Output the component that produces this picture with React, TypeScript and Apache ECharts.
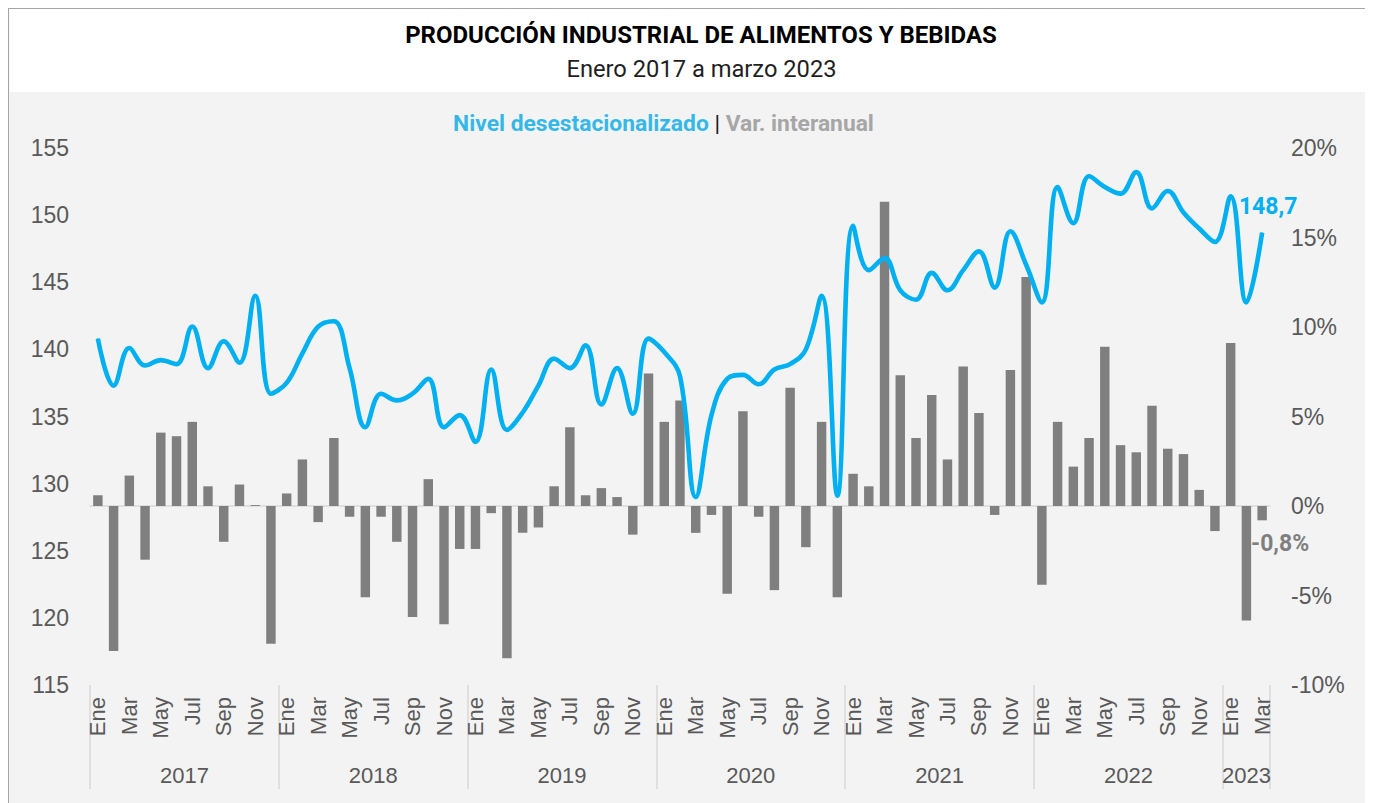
import React, { useEffect, useRef } from "react";
import * as echarts from "echarts";

const monthNames = ["Ene", "Feb", "Mar", "Abr", "May", "Jun", "Jul", "Ago", "Sep", "Oct", "Nov", "Dic"];
const years = ["2017", "2018", "2019", "2020", "2021", "2022", "2023"];
const monthsPerYear = [12, 12, 12, 12, 12, 12, 3];

// Nivel desestacionalizado (left axis)
const level = [
  140.8, 137.3, 140.1, 138.8, 139.2, 138.9, 141.7, 138.6, 140.6, 139.0, 144.0, 136.7,
  137.5, 139.7, 141.7, 142.1, 138.6, 134.2, 136.7, 136.2, 136.7, 137.8, 134.2, 135.1,
  133.1, 138.5, 134.0, 135.3, 137.3, 139.3, 138.6, 140.3, 135.9, 138.6, 135.2, 140.8,
  139.8, 138.0, 129.0, 135.1, 137.8, 138.1, 137.4, 138.5, 138.9, 140.0, 144.0, 129.1,
  149.2, 145.9, 146.8, 144.4, 143.7, 145.7, 144.4, 145.9, 147.3, 144.6, 148.8, 146.3,
  143.5, 152.1, 149.4, 152.9, 152.1, 151.6, 153.2, 150.5, 151.8, 150.2, 149.0, 148.0,
  151.4, 143.5, 148.7,
];

// Var. interanual (%) (right axis)
const yoy = [
  0.6, -8.1, 1.7, -3.0, 4.1, 3.9, 4.7, 1.1, -2.0, 1.2, 0.05, -7.7,
  0.7, 2.6, -0.9, 3.8, -0.6, -5.1, -0.6, -2.0, -6.2, 1.5, -6.6, -2.4,
  -2.4, -0.4, -8.5, -1.5, -1.2, 1.1, 4.4, 0.6, 1.0, 0.5, -1.6, 7.4,
  4.7, 5.9, -1.5, -0.5, -4.9, 5.3, -0.6, -4.7, 6.6, -2.3, 4.7, -5.1,
  1.8, 1.1, 17.0, 7.3, 3.8, 6.2, 2.6, 7.8, 5.2, -0.5, 7.6, 12.8,
  -4.4, 4.7, 2.2, 3.8, 8.9, 3.4, 3.0, 5.6, 3.2, 2.9, 0.9, -1.4,
  9.1, -6.4, -0.8,
];

const leftTicks = { min: 115, max: 155, interval: 5 };
const rightTicks = { min: -10, max: 20, interval: 5 };

const titleText = "PRODUCCIÓN INDUSTRIAL DE ALIMENTOS Y BEBIDAS";
const subtitleText = "Enero 2017 a marzo 2023";

// month categories
const categories: string[] = [];
monthsPerYear.forEach((n) => {
  for (let m = 0; m < n; m++) categories.push(monthNames[m]);
});

// half-month slots for the year row (boundaryGap false, 2 slots per month)
const totalSlots = categories.length * 2 + 1;
const yearSlots: string[] = new Array(totalSlots).fill("");
const yearBoundaries: number[] = [0];
{
  let start = 0;
  monthsPerYear.forEach((n, k) => {
    yearSlots[start * 2 + n] = years[k];
    start += n;
    yearBoundaries.push(start * 2);
  });
}

const AXIS_FONT = "'Liberation Sans', Arial, sans-serif";
const LABEL_COLOR = "#595959";

export default function App() {
  const ref = useRef<HTMLDivElement>(null);

  useEffect(() => {
    if (!ref.current) return;
    const chart = echarts.init(ref.current, undefined, { renderer: "svg" });
    const last = level.length - 1;
    const fmt = (v: number) => v.toFixed(1).replace(".", ",");

    chart.setOption({
      animation: false,
      backgroundColor: "#ffffff",
      graphic: [
        {
          type: "rect",
          z: 0,
          shape: { x: 0.5, y: 0.5, width: 1361.5, height: 810 },
          style: { fill: "#ffffff", stroke: "#a6a6a6", lineWidth: 1.2 },
        },
        {
          type: "rect",
          z: 0,
          shape: { x: 1.2, y: 84, width: 1360.6, height: 720 },
          style: { fill: "#f3f3f3" },
        },
        {
          type: "text",
          z: 10,
          x: 693,
          y: 27,
          style: {
            text: titleText,
            font: "bold 24px Roboto",
            fill: "#000000",
            textAlign: "center",
            textVerticalAlign: "middle",
          },
        },
        {
          type: "text",
          z: 10,
          x: 693.5,
          y: 61,
          style: {
            text: subtitleText,
            font: "23.7px Roboto",
            fill: "#1f1f1f",
            textAlign: "center",
            textVerticalAlign: "middle",
          },
        },
        {
          type: "text",
          z: 10,
          x: 655.5,
          y: 115,
          style: {
            text: "{a|Nivel desestacionalizado} {b||} {c|Var. interanual}",
            font: "bold 22.8px Roboto",
            fill: "#262626",
            textAlign: "center",
            textVerticalAlign: "middle",
            rich: {
              a: { fill: "#35b8e8", fontSize: 22.8, fontWeight: "bold", fontFamily: "Roboto" },
              b: { fill: "#1a1a1a", fontSize: 22.8, fontWeight: "normal", fontFamily: "Roboto" },
              c: { fill: "#a6a6a6", fontSize: 22.8, fontWeight: "bold", fontFamily: "Roboto" },
            },
          },
        },
      ],
      grid: { left: 82, top: 140, width: 1180, height: 537, containLabel: false },
      xAxis: [
        {
          type: "category",
          data: categories,
          boundaryGap: true,
          position: "bottom",
          axisLine: { show: true, lineStyle: { color: "#d9d9d9", width: 1.5 } },
          axisTick: { show: false },
          splitLine: { show: false },
          axisLabel: {
            rotate: 90,
            interval: (i: number) => i % 2 === 0,
            margin: 12,
            fontSize: 22,
            fontFamily: AXIS_FONT,
            color: LABEL_COLOR,
          },
        },
        {
          type: "category",
          data: yearSlots,
          boundaryGap: false,
          position: "bottom",
          axisLine: { show: false },
          axisTick: {
            show: true,
            interval: (i: number) => yearBoundaries.indexOf(i) >= 0,
            length: 104,
            lineStyle: { color: "#d9d9d9", width: 1.5 },
          },
          splitLine: { show: false },
          axisLabel: {
            interval: 0,
            margin: 79,
            fontSize: 22,
            fontFamily: AXIS_FONT,
            color: LABEL_COLOR,
          },
        },
      ],
      yAxis: [
        {
          type: "value",
          position: "left",
          min: leftTicks.min,
          max: leftTicks.max,
          interval: leftTicks.interval,
          axisLine: { show: false },
          axisTick: { show: false },
          splitLine: { show: false },
          axisLabel: { margin: 21, fontSize: 23, fontFamily: AXIS_FONT, color: LABEL_COLOR },
        },
        {
          type: "value",
          position: "right",
          min: rightTicks.min,
          max: rightTicks.max,
          interval: rightTicks.interval,
          axisLine: { show: false },
          axisTick: { show: false },
          splitLine: { show: false },
          axisLabel: {
            margin: 21,
            fontSize: 23,
            fontFamily: AXIS_FONT,
            color: LABEL_COLOR,
            formatter: "{value}%",
          },
        },
      ],
      series: [
        {
          type: "bar",
          name: "Var. interanual",
          xAxisIndex: 0,
          yAxisIndex: 1,
          barWidth: "60%",
          z: 2,
          itemStyle: { color: "#7f7f7f" },
          emphasis: { disabled: true },
          data: yoy.map((v, i) =>
            i === last
              ? {
                  value: v,
                  label: {
                    show: true,
                    position: "bottom",
                    distance: 12,
                    offset: [18, 0],
                    formatter: (p: any) => fmt(p.value) + "%",
                    fontFamily: "Roboto",
                    fontWeight: "bold",
                    fontSize: 23,
                    color: "#7f7f7f",
                  },
                }
              : v
          ),
        },
        {
          type: "line",
          name: "Nivel desestacionalizado",
          xAxisIndex: 0,
          yAxisIndex: 0,
          smooth: 0.4,
          symbol: "circle",
          symbolSize: 1,
          showSymbol: true,
          z: 5,
          itemStyle: { color: "#00b0f0" },
          lineStyle: { color: "#00b0f0", width: 4.6 },
          emphasis: { disabled: true },
          data: level.map((v, i) =>
            i === last
              ? {
                  value: v,
                  label: {
                    show: true,
                    position: "top",
                    distance: 14,
                    offset: [6, 0],
                    formatter: (p: any) => fmt(p.value),
                    fontFamily: "Roboto",
                    fontWeight: "bold",
                    fontSize: 23,
                    color: "#00b0f0",
                  },
                }
              : v
          ),
        },
      ],
    });

    return () => chart.dispose();
  }, []);

  return <div ref={ref} style={{ width: 1365, height: 795 }} />;
}
